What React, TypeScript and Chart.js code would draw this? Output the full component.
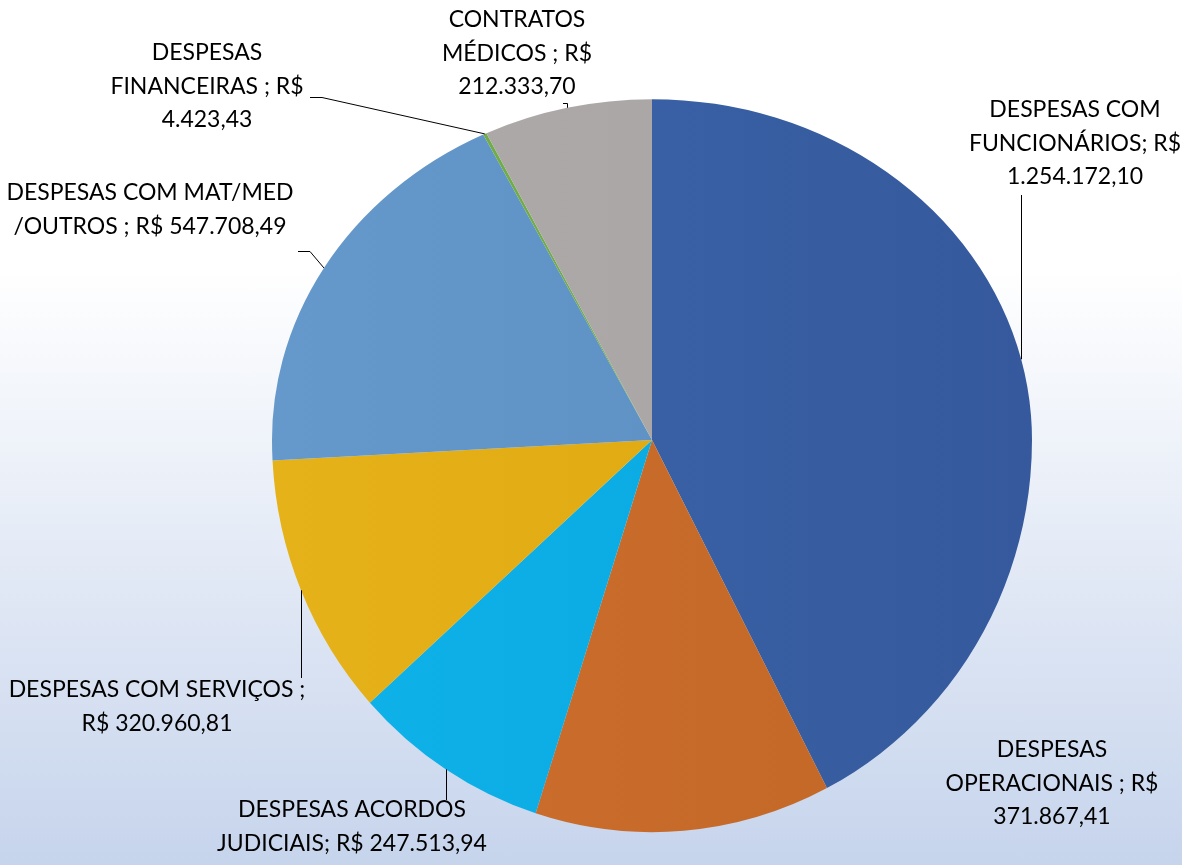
import React, { useEffect, useRef } from "react";
import { Chart, registerables } from "chart.js";

Chart.register(...registerables);

// ---- data ----
const categories = [
  "DESPESAS COM FUNCIONÁRIOS",
  "DESPESAS OPERACIONAIS",
  "DESPESAS ACORDOS JUDICIAIS",
  "DESPESAS COM SERVIÇOS",
  "DESPESAS COM MAT/MED /OUTROS",
  "DESPESAS FINANCEIRAS",
  "CONTRATOS MÉDICOS",
];
const values = [1254172.1, 371867.41, 247513.94, 320960.81, 547708.49, 4423.43, 212333.7];
// label text lines; "{v}" is replaced by the formatted value
const labelTemplates = [
  ["DESPESAS COM", "FUNCIONÁRIOS; R$", "{v}"],
  ["DESPESAS", "OPERACIONAIS ; R$", "{v}"],
  ["DESPESAS ACORDOS", "JUDICIAIS; R$ {v}"],
  ["DESPESAS COM SERVIÇOS ;", "R$ {v}"],
  ["DESPESAS COM MAT/MED", "/OUTROS ; R$ {v}"],
  ["DESPESAS", "FINANCEIRAS ; R$", "{v}"],
  ["CONTRATOS", "MÉDICOS ; R$", "{v}"],
];
const colorsLight = ["#3d66ad", "#cc6e2e", "#10b2ea", "#e6b219", "#6699cb", "#74b04a", "#aeaaa9"];
const colorsDark = ["#35599c", "#c26727", "#05a6dd", "#dba40d", "#5a8cbf", "#6aa443", "#a8a4a3"];

// ---- layout (positions of labels, not data) ----
const labelPos = [
  { x: 1075, y: 110 },
  { x: 1052, y: 750 },
  { x: 352, y: 810 },
  { x: 157, y: 690 },
  { x: 150, y: 193 },
  { x: 207, y: 53 },
  { x: 517, y: 20 },
];
type Leader =
  | { kind: "none" }
  | { kind: "v"; y: number }
  | { kind: "elbow"; x: number; y: number; dx: number }
  | { kind: "tick"; x: number; y: number };
const leaders: Leader[] = [
  { kind: "v", y: 195 },
  { kind: "none" },
  { kind: "v", y: 800 },
  { kind: "v", y: 678 },
  { kind: "elbow", x: 298, y: 251, dx: 12 },
  { kind: "elbow", x: 310, y: 97, dx: 12 },
  { kind: "tick", x: 563, y: 103 },
];
const LINE_H = 33.5;
// perspective-like look: upper half flatter than lower half
const SY_TOP = 0.897;
const SY_BOT = 1.032;
const FONT = '23px Lato, "Noto Sans", sans-serif';

function fmtBR(v: number): string {
  const fixed = v.toFixed(2);
  const [intPart, dec] = fixed.split(".");
  const withDots = intPart.replace(/\B(?=(\d{3})+(?!\d))/g, ".");
  return withDots + "," + dec;
}

export default function App() {
  const ref = useRef<HTMLCanvasElement | null>(null);

  useEffect(() => {
    document.body.style.margin = "0";
    const canvas = ref.current;
    if (!canvas) return;

    const tiltPlugin = {
      id: "tilt",
      beforeDatasetsDraw(chart: any) {
        const meta = chart.getDatasetMeta(0);
        const els = meta.data;
        if (!els.length) return;
        const cx = els[0].x;
        const cy = els[0].y;
        const ctx = chart.ctx;
        const W = chart.width;
        const H = chart.height;
        const halves = [
          { clip: [0, 0, W, cy], sy: SY_TOP },
          { clip: [0, cy, W, H - cy], sy: SY_BOT },
        ];
        halves.forEach((h) => {
          ctx.save();
          ctx.beginPath();
          ctx.rect(h.clip[0], h.clip[1], h.clip[2], h.clip[3]);
          ctx.clip();
          ctx.translate(cx, cy);
          ctx.scale(1, h.sy);
          ctx.translate(-cx, -cy);
          els.forEach((el: any) => el.draw(ctx));
          ctx.restore();
        });
        return false;
      },
    };

    const labelPlugin = {
      id: "pieLabels",
      afterDraw(chart: any) {
        const ctx = chart.ctx;
        const meta = chart.getDatasetMeta(0);
        ctx.save();
        ctx.strokeStyle = "#000";
        ctx.lineWidth = 1;
        meta.data.forEach((el: any, i: number) => {
          const mid = (el.startAngle + el.endAngle) / 2;
          const s = Math.sin(mid);
          const ex = el.x + Math.cos(mid) * el.outerRadius;
          const ey = el.y + s * el.outerRadius * (s < 0 ? SY_TOP : SY_BOT);
          const L = leaders[i];
          const pts: [number, number][] = [];
          if (L.kind === "v") {
            const x = Math.round(ex) + 0.5;
            pts.push([x, ey], [x, L.y]);
          } else if (L.kind === "elbow") {
            pts.push([ex, ey], [L.x + L.dx, L.y + 0.5], [L.x, L.y + 0.5]);
          } else if (L.kind === "tick") {
            const x = Math.round(ex) + 0.5;
            pts.push([x, ey], [x, L.y + 0.5], [L.x, L.y + 0.5]);
          }
          if (pts.length) {
            ctx.beginPath();
            ctx.moveTo(pts[0][0], pts[0][1]);
            for (let k = 1; k < pts.length; k++) ctx.lineTo(pts[k][0], pts[k][1]);
            ctx.stroke();
          }
        });
        ctx.font = FONT;
        ctx.fillStyle = "#000";
        ctx.textAlign = "center";
        ctx.textBaseline = "middle";
        labelTemplates.forEach((lines, i) => {
          const p = labelPos[i];
          lines.forEach((t, k) => {
            ctx.fillText(t.replace("{v}", fmtBR(values[i])), p.x, p.y + k * LINE_H);
          });
        });
        ctx.restore();
      },
    };

    const chart = new Chart(canvas, {
      type: "pie",
      data: {
        labels: categories,
        datasets: [
          {
            data: values,
            backgroundColor: (c: any) => {
              const ch = c.chart;
              const area = ch.chartArea;
              const i = c.dataIndex;
              if (!area) return colorsLight[i];
              const g = ch.ctx.createLinearGradient(area.left, 0, area.right, 0);
              g.addColorStop(0, colorsLight[i]);
              g.addColorStop(1, colorsDark[i]);
              return g;
            },
            borderWidth: 0,
          },
        ],
      },
      options: {
        responsive: false,
        animation: false,
        layout: { padding: { left: 272, right: 150, top: 60, bottom: 45 } },
        plugins: {
          legend: { display: false },
          tooltip: { enabled: false },
        },
      },
      plugins: [tiltPlugin, labelPlugin],
    });

    return () => chart.destroy();
  }, []);

  return (
    <div
      style={{
        width: 1182,
        height: 865,
        background: "linear-gradient(to bottom, #ffffff 0%, #ffffff 31%, #c6d4ec 100%)",
      }}
    >
      <canvas ref={ref} width={1182} height={865} style={{ display: "block" }} />
    </div>
  );
}
